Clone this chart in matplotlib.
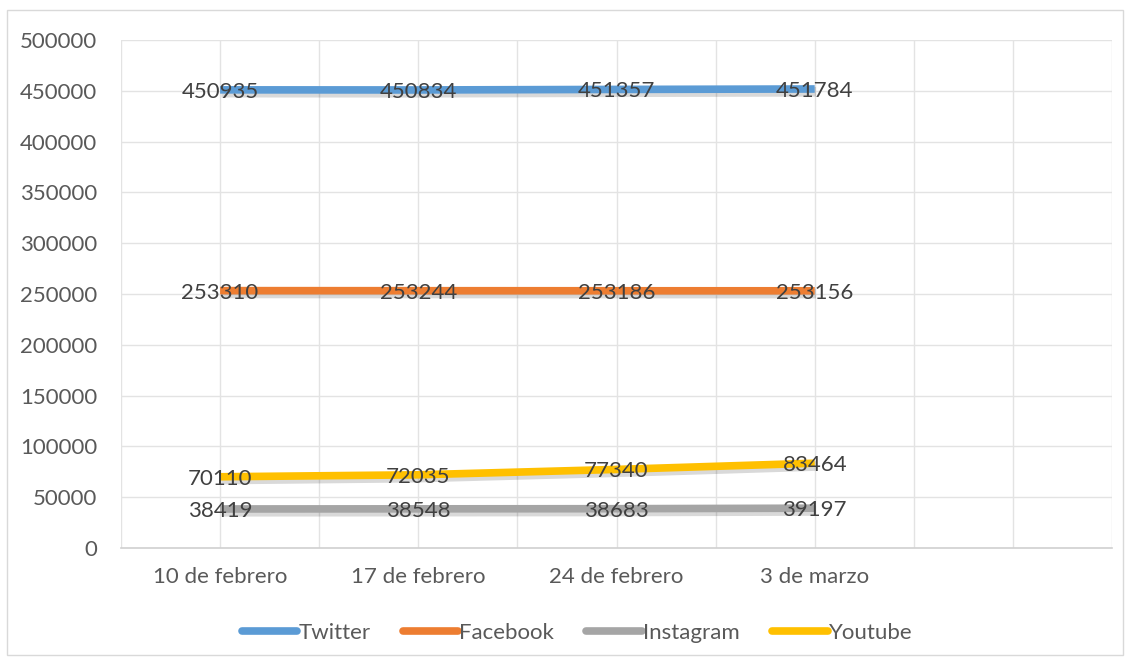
import matplotlib
matplotlib.use("Agg")
import matplotlib.pyplot as plt
import matplotlib.patheffects as pe
import matplotlib.transforms as mtransforms
from matplotlib.patches import Rectangle

plt.rcParams['font.family'] = ['Lato', 'DejaVu Sans']

categories = ["10 de febrero", "17 de febrero", "24 de febrero", "3 de marzo", ""]
twitter = [450935, 450834, 451357, 451784]
facebook = [253310, 253244, 253186, 253156]
instagram = [38419, 38548, 38683, 39197]
youtube = [70110, 72035, 77340, 83464]

series = [
    ("Twitter", twitter, "#5B9BD5"),
    ("Facebook", facebook, "#ED7D31"),
    ("Instagram", instagram, "#A5A5A5"),
    ("Youtube", youtube, "#FFC000"),
]

text_color = "#595959"
grid_color = "#E3E3E3"
fs = 16

fig = plt.figure(figsize=(11.31, 6.64), dpi=100)
fig.patches.append(Rectangle((7/1131, 1 - 655/664), 1116/1131, 645/664,
                             transform=fig.transFigure, fill=False,
                             edgecolor="#D9D9D9", linewidth=1))
ax = fig.add_axes([121/1131, 1 - 548/664, (1112 - 121)/1131, (548 - 40)/664])

n = len(categories)
ax.set_xlim(-0.5, n - 0.5)
ax.set_ylim(0, 500000)
ax.set_yticks(range(0, 500001, 50000))
ax.set_xticks(range(n))
ax.set_xticklabels(categories)

for i in range(2 * n + 1):
    ax.axvline(-0.5 + i * 0.5, color=grid_color, linewidth=1, zorder=0)
for y in range(50000, 500001, 50000):
    ax.axhline(y, color=grid_color, linewidth=1, zorder=0)

shadow = [pe.SimpleLineShadow(offset=(1, -2), shadow_color="black", alpha=0.15,
                              linewidth=7),
          pe.Normal()]
label_tr = ax.transData + mtransforms.ScaledTranslation(0, -2/100, fig.dpi_scale_trans)
xs = list(range(len(twitter)))
for name, vals, col in series:
    ax.plot(xs, vals, color=col, linewidth=5.5, solid_capstyle="butt",
            label=name, path_effects=shadow, zorder=3)
    for x, v in zip(xs, vals):
        ax.text(x, v, str(v), ha="center", va="center", fontsize=fs,
                color="#404040", zorder=4, transform=label_tr)

for s in ["top", "right", "left"]:
    ax.spines[s].set_visible(False)
ax.spines["bottom"].set_color("#D0D0D0")
ax.spines["bottom"].set_linewidth(1.2)
ax.tick_params(axis="both", length=0, labelsize=fs, labelcolor=text_color)
ax.tick_params(axis="x", pad=14)
ax.tick_params(axis="y", pad=17)

leg = fig.legend(loc="center", bbox_to_anchor=(577/1131, 1 - 633/664), ncol=4,
                 frameon=False, fontsize=fs, handlelength=2.5, handletextpad=0.05,
                 columnspacing=1.45)
for t in leg.get_texts():
    t.set_color(text_color)
for h in leg.get_lines():
    h.set_path_effects([])
    h.set_solid_capstyle("round")

fig.savefig("out.png", dpi=100)
